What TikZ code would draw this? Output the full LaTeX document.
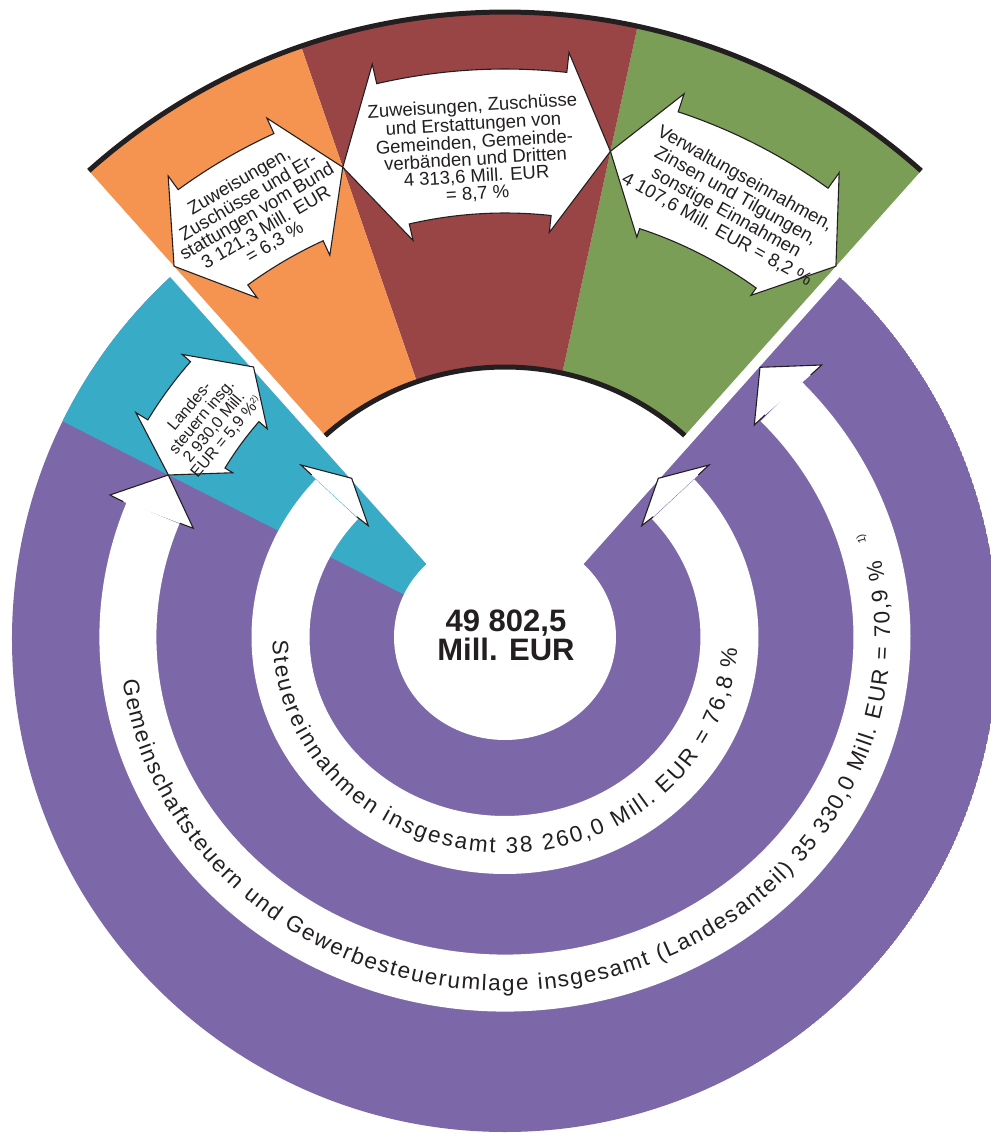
\documentclass[tikz,border=0pt]{standalone}
\usepackage{fontspec}
\setmainfont{Liberation Sans}
\usetikzlibrary{calc,decorations.text}
\definecolor{cOr}{HTML}{F49450}
\definecolor{cBr}{HTML}{9A4545}
\definecolor{cGr}{HTML}{7A9E55}
\definecolor{cCy}{HTML}{38ACC7}
\definecolor{cPu}{HTML}{7C68A8}
\definecolor{cLn}{HTML}{231F20}
\newcommand\UpArrow[8]{%
  \filldraw[arrowsty] (#1:#3) -- ({#1-#4}:#5) -- ({#1-#4}:#7)
    arc[start angle={#1-#4}, end angle={#2+#4}, radius=#7]
    -- ({#2+#4}:#5) -- (#2:#3) -- ({#2+#4}:#6) -- ({#2+#4}:#8)
    arc[start angle={#2+#4}, end angle={#1-#4}, radius=#8]
    -- ({#1-#4}:#6) -- cycle;}
\begin{document}
\begin{tikzpicture}[x=1pt,y=1pt,
  arrowsty/.style={fill=white, draw=cLn, line width=1.1pt, line join=miter},
  headline/.style={draw=cLn, line width=1.1pt, line join=miter},
  boxtxt/.style={text=cLn, align=center, inner sep=0pt, font=\fontsize{18.5}{17}\selectfont},
  ]
\useasboundingbox (-505,-499) rectangle (486,637);
\clip (-505,-499) rectangle (486,637);

% ---------- lower group ----------
\begin{scope}
  \clip (0,-2) circle [radius=493];
  \fill[cPu] (0,-2) circle [radius=493];
  \fill[cCy] (0,-15) -- ($(0,-15)+(131.75:900)$) -- ($(0,-8.7)+(153.1:900)$) -- (0,-8.7) -- cycle;
\end{scope}
\fill[white] (0,-15) -- ($(0,-15)+(48.25:900)$) -- ($(0,-15)+(131.75:900)$) -- cycle;
\fill[white] (0,0) ellipse [x radius=111, y radius=103];

% white bands
\draw[white, line width=58pt] (138.5:224.5 and 208) arc[start angle=138.5, end angle=401.5, x radius=224.5, y radius=208];
\draw[white, line width=57pt] (159:377 and 346) arc[start angle=159, end angle=403, x radius=377, y radius=346];

% band heads
\fill[white] (193.3,162) -- (204,172) -- (153.3,158.7) -- (136.7,111.3) -- (148.3,120.3) -- cycle;
\draw[headline] (193.3,162) -- (204,172) -- (153.3,158.7) -- (136.7,111.3) -- (148.3,120.3);
\fill[white] (-193.3,162) -- (-204,172) -- (-153.3,158.7) -- (-136.7,111.3) -- (-148.3,120.3) -- cycle;
\draw[headline] (-193.3,162) -- (-204,172) -- (-153.3,158.7) -- (-136.7,111.3) -- (-148.3,120.3);
\fill[white] (305.7,262) -- (316.7,272) -- (255,269.7) -- (249.3,212) -- (260,222) -- cycle;
\draw[headline] (305.7,262) -- (316.7,272) -- (255,269.7) -- (249.3,212) -- (260,222);
\fill[white] (-381.7,135.3) -- (-395,142) -- (-336.7,162) -- (-311.7,108.7) -- (-325,113.7) -- cycle;
\draw[headline] (-381.7,135.3) -- (-395,142) -- (-336.7,162) -- (-311.7,108.7) -- (-325,113.7);

% Landessteuern arrow
\filldraw[arrowsty] (132.96:369) -- (138.8:429) -- (138.8:418)
  arc[start angle=138.8, end angle=148.7, radius=418] -- (148.7:432) -- (154.3:373.6)
  -- (148.9:318) -- (148.9:327) arc[start angle=148.9, end angle=138.8, radius=327]
  -- (138.8:316) -- cycle;

% ---------- upper group ----------
\fill[cGr] (48.25:270) arc[start angle=48.25, end angle=77.75, radius=270] -- (77.75:625) arc[start angle=77.75, end angle=48.25, radius=625] -- cycle;
\fill[cBr] (77.75:270) arc[start angle=77.75, end angle=109.05, radius=270] -- (109.05:625) arc[start angle=109.05, end angle=77.75, radius=625] -- cycle;
\fill[cOr] (109.05:270) arc[start angle=109.05, end angle=131.75, radius=270] -- (131.75:625) arc[start angle=131.75, end angle=109.05, radius=625] -- cycle;
\draw[cLn, line width=5pt] (48.25:270) arc[start angle=48.25, end angle=131.75, radius=270];
\draw[cLn, line width=5pt] (48.25:625) arc[start angle=48.25, end angle=131.75, radius=625];

\UpArrow{131.75}{109.05}{497}{5.6}{571}{420}{554}{436}
\UpArrow{109.05}{77.75}{497}{6}{588}{407}{568}{424}
\UpArrow{77.75}{48.25}{497}{6}{572}{421}{553}{430}

% ---------- texts ----------
\node[boxtxt, rotate=30.4] (tOr) at (-248,425) {Zuweisungen,\\Zuschüsse und Er-\\stattungen vom Bund\\3 121,3 Mill. EUR\\= 6,3 \%};
\node[boxtxt, rotate=3.5] (tBr) at (-30,487) {Zuweisungen, Zuschüsse\\und Erstattungen von\\Gemeinden, Gemeinde-\\verbänden und Dritten\\4 313,6 Mill. EUR\\= 8,7 \%};
\node[boxtxt, rotate=-29, font=\fontsize{18.5}{19.5}\selectfont] (tGr) at (226,433) {Verwaltungseinnahmen,\\Zinsen und Tilgungen,\\sonstige Einnahmen\\4 107,6 Mill. EUR = 8,2 \%};
\node[boxtxt, rotate=50, font=\fontsize{16}{16}\selectfont] (tCy) at (-297,215) {Landes-\\steuern insg.\\2 930,0 Mill.\\EUR = 5,9 \%\raisebox{5pt}{\fontsize{8.5}{9}\selectfont 2)}};

\node[text=cLn, align=center, inner sep=0pt, font=\bfseries\fontsize{31}{29}\selectfont] (tot) at (1,1.5) {49 802,5\\Mill. EUR};

\path[decorate, decoration={text along path, text align=fit to path,
  text={|\fontsize{22.5}{22.5}\selectfont\color{cLn}|Steuereinnahmen insgesamt 38 260,0 Mill. EUR = 76,8 {\%}}}]
  (181:232.5 and 216) arc[start angle=181, end angle=357, x radius=232.5, y radius=216];
\path[decorate, decoration={text along path, text align=fit to path,
  text={|\fontsize{22.5}{22.5}\selectfont\color{cLn}|Gemeinschaftsteuern und Gewerbesteuerumlage insgesamt (Landesanteil) 35 330,0 Mill. EUR = 70,9 {\%}}}]
  (187:385 and 354) arc[start angle=187, end angle=372.5, x radius=385, y radius=354];
\node[text=cLn, inner sep=0pt, rotate=105, font=\fontsize{11}{11}\selectfont] (sup1) at (357,98) {1)};
\end{tikzpicture}
\end{document}
